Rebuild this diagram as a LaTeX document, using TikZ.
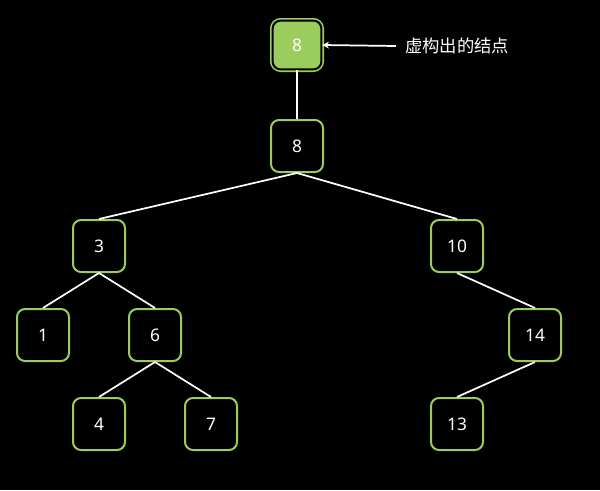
\documentclass[tikz,border=0pt]{standalone}
\usepackage{fontspec}
\setmainfont{Noto Sans}
\newfontfamily\cjk{Noto Sans CJK SC}
\usetikzlibrary{arrows.meta}
\definecolor{leafgreen}{RGB}{155,204,94}

\begin{document}
\begin{tikzpicture}[x=0.75pt, y=-0.75pt,
    box/.style={draw=leafgreen, line width=1.5pt, rounded corners=6pt,
        minimum size=39pt, inner sep=0pt, text=white,
        font=\fontsize{13}{13}\selectfont},
    fakebox/.style={box, fill=leafgreen, double=black, double distance=1.5pt,
        line width=1.2pt, minimum size=36.6pt},
    link/.style={draw=white, line width=1.3pt}]
\fill[black] (0,0) rectangle (600,490);
\useasboundingbox (0,0) rectangle (600,490);

\node[fakebox] (v) at (297, 45) {8};
\node[box] (r)   at (297,146) {8};
\node[box] (n3)  at ( 99,246) {3};
\node[box] (n10) at (457,246) {10};
\node[box] (n1)  at ( 43,335) {1};
\node[box] (n6)  at (155,335) {6};
\node[box] (n14) at (535,335) {14};
\node[box] (n4)  at ( 99,424) {4};
\node[box] (n7)  at (211,424) {7};
\node[box] (n13) at (457,424) {13};

\foreach \a/\b in {v/r, r/n3, r/n10, n3/n1, n3/n6, n6/n4, n6/n7, n10/n14, n14/n13}
    \draw[link] (\a.south) -- (\b.north);

\node[anchor=west, inner sep=0pt, outer xsep=6.75pt, text=white,
    font=\cjk\fontsize{13}{13}\selectfont] (note) at (396,46) {虚构出的结点};
\draw[link, -{Stealth[length=5pt, width=5pt]}] (note.west) -- (v.east);

\end{tikzpicture}
\end{document}
